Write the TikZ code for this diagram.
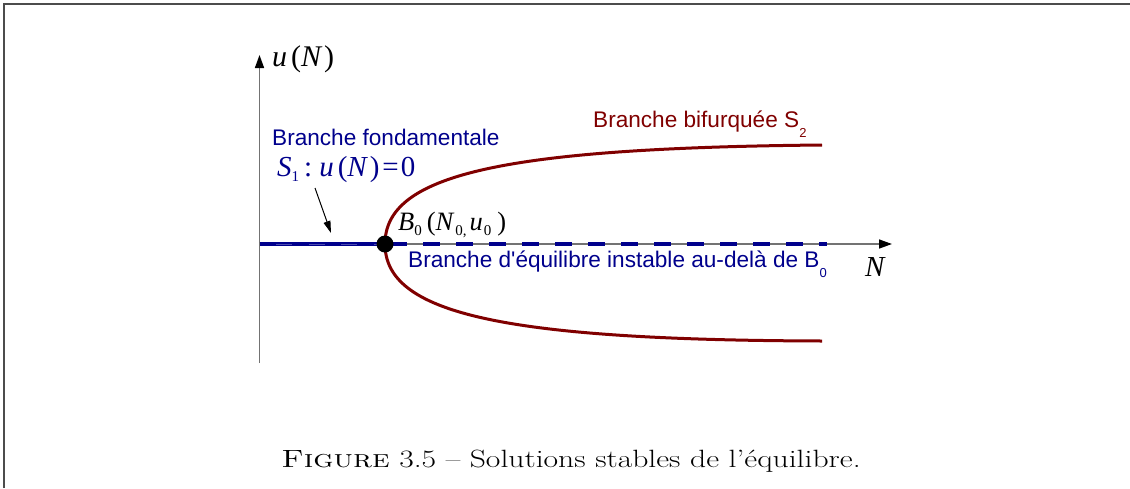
\documentclass[tikz,border=0pt]{standalone}
\usepackage{fontspec}
\newfontfamily\sansf{Liberation Sans}
\newfontfamily\tmsf{Liberation Serif}
\usetikzlibrary{arrows.meta}
\definecolor{navy}{RGB}{0,0,140}
\definecolor{dred}{RGB}{128,0,0}
\newcommand\sanssub[1]{\raisebox{-10pt}{\fontsize{13}{13}\selectfont #1}}
\newcommand\tmsub[1]{\raisebox{-5pt}{\fontsize{15}{15}\selectfont #1}}
\begin{document}
\begin{tikzpicture}[x=1pt,y=-1pt,
  axisline/.style={draw=gray!90!black,line width=1.5pt,-{Triangle[length=13pt,width=9pt,color=black]}},
  redcurve/.style={draw=dred,line width=3pt},
  bluesolid/.style={draw=navy,line width=4pt},
  bluedash/.style={draw=navy,line width=4pt,dash pattern=on 16.7pt off 16.3pt,dash phase=28pt},
  lightdash/.style={draw=navy!70!white,line width=1pt,dash pattern=on 16pt off 16.5pt,dash phase=16pt},
  sanslbl/.style={anchor=base west,inner sep=0pt,font=\sansf\fontsize{22.6}{26}\selectfont},
  mathlbl/.style={anchor=base west,inner sep=0pt},
  pointer/.style={draw=black,line width=1pt,-{Triangle[length=12pt,width=7pt]}}]
\useasboundingbox (0,0) rectangle (1130,488);
\draw[line width=1.5pt,black!70] (4,488) -- (4,4) -- (1130,4);
% axes
\coordinate (O) at (259.5,244);
\coordinate (ybot) at (259.5,363);
\coordinate (ytop) at (259.5,55);
\coordinate (xend) at (892,244);
\coordinate (B0) at (385,244);
\coordinate (dashend) at (827,244);
\coordinate (S2top) at (822,145);
\coordinate (S2bot) at (822,341);
\draw[axisline] (ybot) -- (ytop);
\draw[axisline] (O) -- (xend);
% branches
\draw[redcurve] (B0) .. controls (385,175) and (500,148) .. (S2top);
\draw[redcurve] (B0) .. controls (385,313) and (500,340) .. (S2bot);
\draw[bluesolid] (O) -- (B0);
\draw[lightdash] (O) -- (B0);
\draw[bluedash] (B0) -- (dashend);
\node[circle,fill=black,minimum size=17pt,inner sep=0pt] (dot) at (B0) {};
% labels
\node[mathlbl] (uN) at (272,66) {\tmsf\fontsize{30}{30}\selectfont\itshape u\upshape\hspace{4pt}(\itshape N\upshape\hspace{3pt})};
\node[mathlbl] (Nlbl) at (865,276) {\tmsf\fontsize{29}{29}\selectfont\itshape N};
\node[sanslbl,text=navy] (fond) at (272,145) {Branche fondamentale};
\node[mathlbl,text=navy] (S1) at (277,176) {\tmsf\fontsize{29}{29}\selectfont\itshape S\upshape\tmsub{1}\hspace{5pt}:\hspace{7pt}\itshape u\upshape\hspace{4pt}(\itshape N\upshape\hspace{3pt})\hspace{3pt}=\hspace{2pt}0};
\node[sanslbl,text=dred] (bif) at (593,127) {Branche bifurqu\'ee S\sanssub{2}};
\node[sanslbl,text=navy] (inst) at (408,267) {Branche d'\'equilibre instable au-del\`a de B\sanssub{0}};
\node[mathlbl] (B0lbl) at (398,230) {\tmsf\fontsize{26.5}{26}\selectfont\itshape B\upshape\tmsub{0}\hspace{5pt}(\itshape N\upshape\hspace{2pt}\tmsub{0,}\hspace{3pt}\itshape u\upshape\hspace{1pt}\tmsub{0}\hspace{6pt})};
\coordinate (p1) at (315,188);
\coordinate (p2) at (331,233);
\draw[pointer] (p1) -- (p2);
% caption
\node[anchor=base,inner sep=0pt] (cap) at (571,467) {\scalebox{1.265}[1]{\fontsize{25}{29}\selectfont\textsc{Figure}~3.5 -- Solutions stables de l'\'equilibre.}};
\end{tikzpicture}
\end{document}
